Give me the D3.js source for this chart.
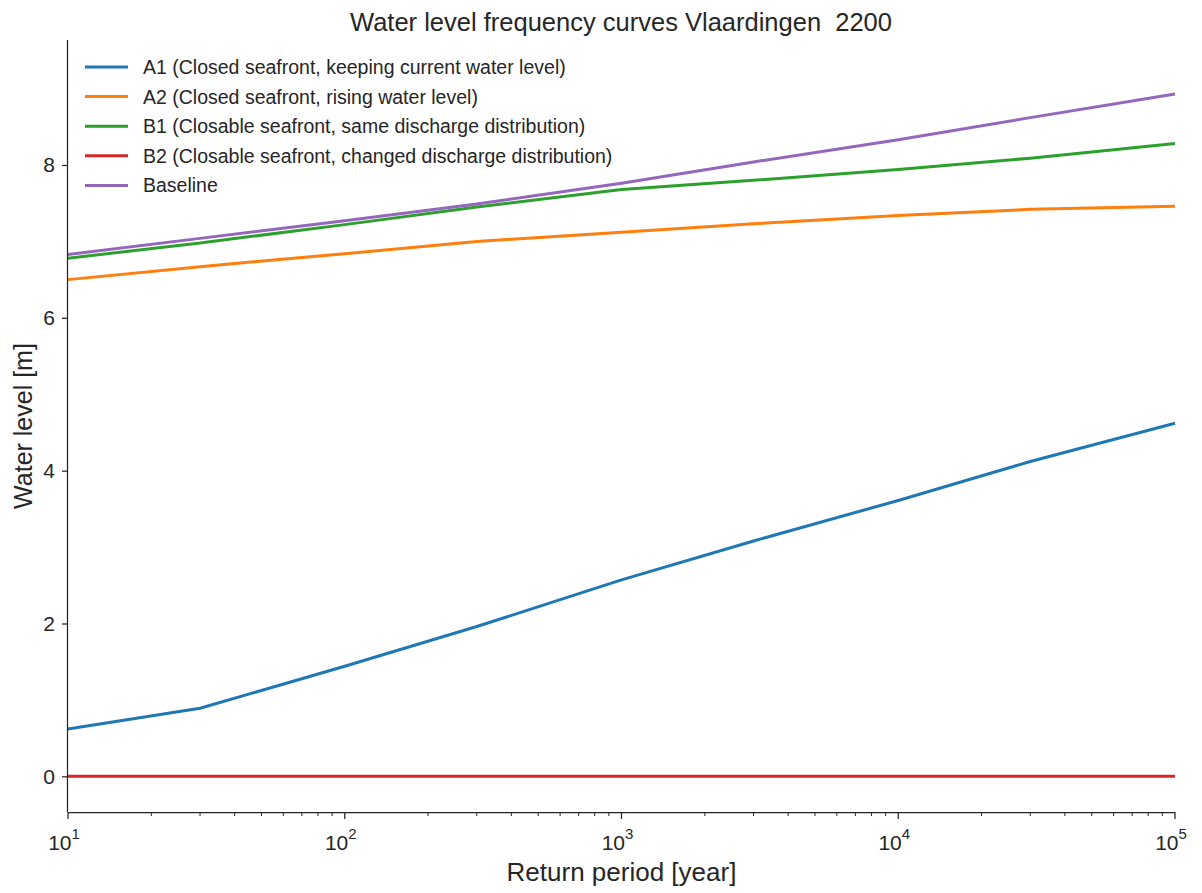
<!DOCTYPE html>
<html>
<head>
<meta charset="utf-8">
<script src="https://cdn.jsdelivr.net/npm/d3@7"></script>
<style>
  body { margin: 0; background: #fff; }
  svg text { font-family: "Liberation Sans", Arial, sans-serif; fill: #262626; white-space: pre; }
</style>
</head>
<body>
<svg id="chart" width="1202" height="893"></svg>
<script>
// Return periods (years)
const returnPeriods = [10, 30, 100, 300, 1000, 3000, 10000, 30000, 100000];

// Water levels [m] per scenario
const a1 = [0.62, 0.89, 1.44, 1.96, 2.57, 3.08, 3.61, 4.12, 4.62];
const a2 = [6.50, 6.67, 6.84, 7.00, 7.12, 7.23, 7.34, 7.42, 7.46];
const b1 = [6.78, 6.98, 7.22, 7.45, 7.68, 7.80, 7.94, 8.09, 8.28];
const b2 = [0, 0, 0, 0, 0, 0, 0, 0, 0];
const baseline = [6.83, 7.04, 7.27, 7.49, 7.76, 8.04, 8.33, 8.62, 8.93];

const seriesNames = [
  "A1 (Closed seafront, keeping current water level)",
  "A2 (Closed seafront, rising water level)",
  "B1 (Closable seafront, same discharge distribution)",
  "B2 (Closable seafront, changed discharge distribution)",
  "Baseline"
];
const seriesColors = ["#1f77b4", "#ff7f0e", "#2ca02c", "#d62728", "#9467bd"];
const seriesValues = [a1, a2, b1, b2, baseline];

const yTicks = [0, 2, 4, 6, 8];
const xTicks = [10, 100, 1000, 10000, 100000];

const margin = { left: 68, right: 1175, top: 40, bottom: 812 };
const svg = d3.select("#chart");

const x = d3.scaleLog().domain([10, 100000]).range([margin.left, margin.right]);
const y = d3.scaleLinear().domain([-0.467, 9.636]).range([margin.bottom, margin.top]);

const ink = "#262626";

// Lines
const line = d3.line()
  .x((d, i) => x(returnPeriods[i]))
  .y(d => y(d));

seriesValues.forEach((vals, k) => {
  svg.append("path")
    .datum(vals)
    .attr("fill", "none")
    .attr("stroke", seriesColors[k])
    .attr("stroke-width", 3)
    .attr("stroke-linejoin", "round")
    .attr("stroke-linecap", "butt")
    .attr("d", line);
});

// Y axis
const yAxis = d3.axisLeft(y).tickValues(yTicks).tickSize(6).tickPadding(7).tickFormat(d3.format("d"));
const gy = svg.append("g").attr("transform", `translate(${margin.left},0)`).call(yAxis);
gy.select(".domain").attr("stroke", ink).attr("stroke-width", 1.25).attr("d", `M-0.5,${margin.top}V${margin.bottom}`);
gy.selectAll(".tick line").attr("stroke", ink).attr("stroke-width", 1.25);
gy.selectAll(".tick text").attr("font-size", 21).style("fill", ink)
  .attr("font-family", "Liberation Sans, Arial, sans-serif");

// X axis: major decades plus minor ticks
const minorTicks = [];
for (let e = 1; e < 5; e++) {
  for (let m = 2; m <= 9; m++) minorTicks.push(m * Math.pow(10, e));
}
const gx = svg.append("g").attr("transform", `translate(0,${margin.bottom})`);
gx.append("path").attr("stroke", ink).attr("stroke-width", 1.25).attr("fill", "none")
  .attr("d", `M${margin.left},0.5H${margin.right}`);
gx.selectAll("line.minor").data(minorTicks).join("line")
  .attr("class", "minor")
  .attr("x1", d => x(d)).attr("x2", d => x(d))
  .attr("y1", 0).attr("y2", 4)
  .attr("stroke", ink).attr("stroke-width", 1);
gx.selectAll("line.major").data(xTicks).join("line")
  .attr("class", "major")
  .attr("x1", d => x(d)).attr("x2", d => x(d))
  .attr("y1", 0).attr("y2", 7)
  .attr("stroke", ink).attr("stroke-width", 1.25);
const xl = gx.selectAll("text.xlab").data(xTicks).join("text")
  .attr("class", "xlab")
  .attr("x", d => x(d) - 4)
  .attr("y", 38)
  .attr("text-anchor", "middle")
  .attr("font-size", 21);
xl.append("tspan").text("10");
xl.append("tspan").attr("dy", -11).attr("font-size", 15).text(d => Math.round(Math.log10(d)));

// Axis titles
svg.append("text").attr("x", (margin.left + margin.right) / 2).attr("y", 881)
  .attr("text-anchor", "middle").attr("font-size", 26).text("Return period [year]");
svg.append("text")
  .attr("transform", `translate(32,${(margin.top + margin.bottom) / 2}) rotate(-90)`)
  .attr("text-anchor", "middle").attr("font-size", 25).text("Water level [m]");

// Title
svg.append("text").attr("x", 621).attr("y", 31)
  .attr("text-anchor", "middle").attr("font-size", 25.5).text("Water level frequency curves Vlaardingen  2200");

// Legend
const legend = svg.append("g").attr("transform", "translate(85,67)");
seriesNames.forEach((name, k) => {
  const g = legend.append("g").attr("transform", `translate(0,${k * 29.6})`);
  g.append("line").attr("x1", 0).attr("x2", 43).attr("y1", 0).attr("y2", 0)
    .attr("stroke", seriesColors[k]).attr("stroke-width", 3);
  g.append("text").attr("x", 58).attr("y", 7).attr("font-size", 19.5).text(name);
});
</script>
</body>
</html>
